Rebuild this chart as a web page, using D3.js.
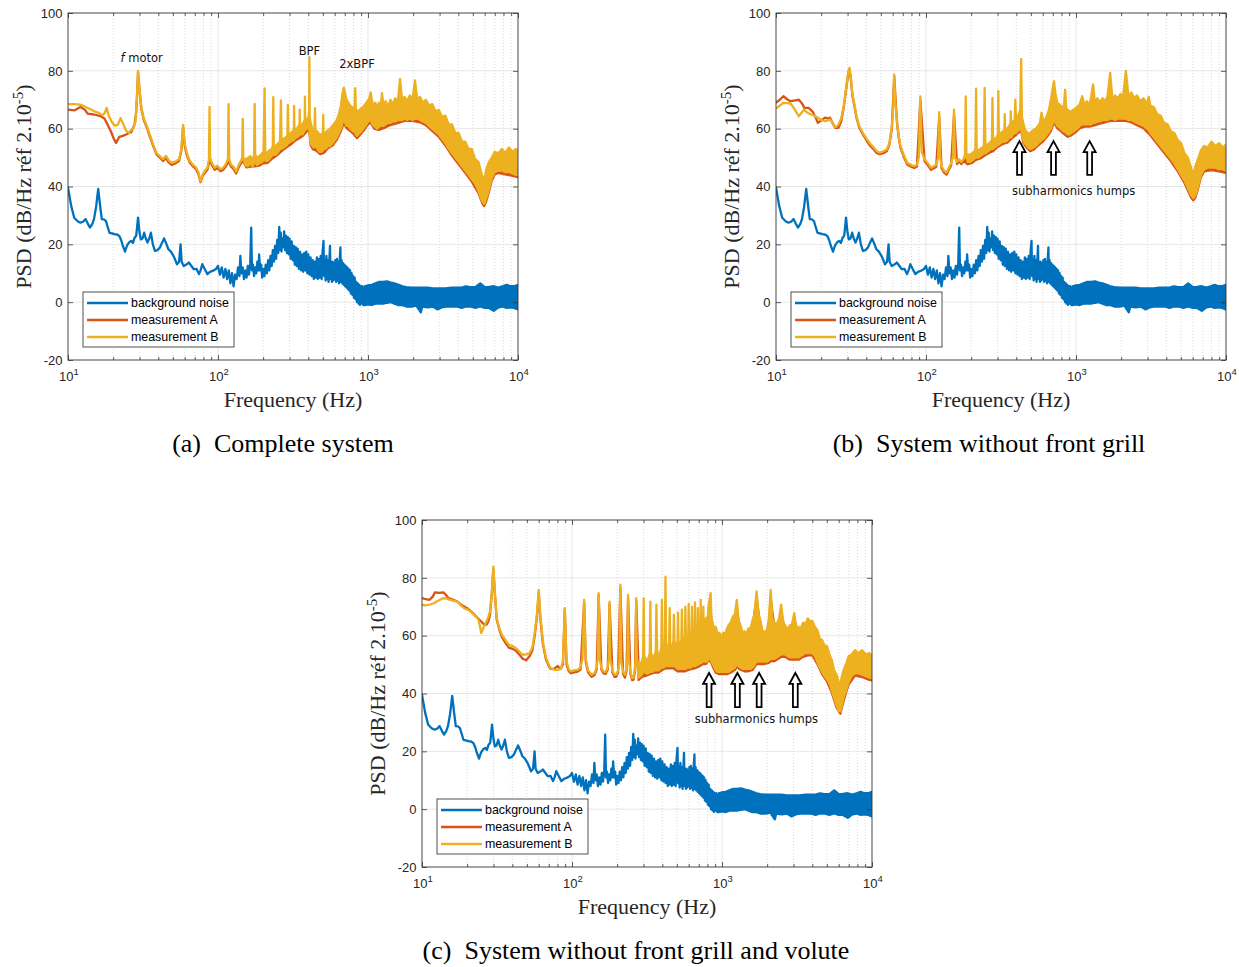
<!DOCTYPE html>
<html><head><meta charset="utf-8">
<script src="https://cdn.jsdelivr.net/npm/d3@7"></script>
<style>body{margin:0;background:#fff}svg{display:block}</style>
</head><body>
<svg id="chart" width="1239" height="967"></svg>
<script>
// ---------- DATA (frequency Hz, PSD dB; [f, v] or [f, low, high] for noisy bands) ----------
const yTicks = [-20, 0, 20, 40, 60, 80, 100];
const xDecades = [10, 100, 1000, 10000];
const xDecadeExp = ["1", "2", "3", "4"];
const seriesNames = ["background noise", "measurement A", "measurement B"];
const seriesColors = ["#0072BD", "#D95319", "#EDB120"];
const captions = ["(a)  Complete system", "(b)  System without front grill", "(c)  System without front grill and volute"];

// background noise (same recording in all three panels)
const backgroundNoise = [
[10,39.6],[10.5,33.3],[11,29.2],[11.6,28],[12.1,27.5],[12.6,27.8],[13.1,28.7],[13.6,27],[14,25.8],[14.5,27],[14.9,28.7],[15.4,33],[15.9,39.2],[16.4,33],[16.8,28.7],[17.4,28.6],[17.9,28],[18.4,26],[18.9,24],[19.6,23.8],[20.4,23.5],[21.2,23.4],[22,22.9],[22.6,21.5],[23.2,19.5],[24,17.5],[24.5,19],[25,20],[25.7,20.8],[26.4,21.2],[27.1,20.5],[27.8,22.3],[28.5,23],[29.3,29.2],[30,24],[30.6,21.7],[31.4,22],[32.2,24],[33,22],[33.9,20.6],[34.8,22],[35.7,24],[36.8,20],[38,17.7],[39.5,18],[41,18.9],[42.3,20.5],[43.7,22],[45,20.5],[46.7,18.3],[48.5,17.5],[50.5,16],[52,14.5],[53.3,13.1],[55,14],[56.3,20],[57.2,14],[59.1,12.5],[61.5,13],[63.9,13.7],[66.5,12.5],[69,11.4],[72,11.5],[74.7,9.7],[76.5,11],[78.6,13.1],[81.5,11.5],[85,9.7],[88.5,10.5],[92,10.8],[97,11.5],
[100,12.5],[103,9.5],[106,12],[109,8.5],[112,11.5],[115,8],[118,11],[121,6.5],[124,10],[127,5.5],[130,9.5],[133,8],[136,12],[139,9],[141,16],[143,10],[146,12],[149,8],[152,11],[155,8.5],[158,12.5],[161,9.5],[164,13.5],[166.5,25.8],[168.5,11],[171,13],[174,9],[177,12],[180,10],[183,14],[186,11],[188,16.5],[191,11],[194,13],[197,8.5],[200,11.5],[204,9],[208,13],[212,10],[216,14.5],[220,11],[224,16],[228,12.5],[232,18],[236,14],[240,19.5],[244,15],[248,21.5],[252,17],[256,26],[259,18],[262,24],[265,17.5],[268,22],[272,19],[276,24.5],[280,18],[284,23],[288,17],[292,22.5],[296,16.5],[300,22],[305,15],[310,21],[315,14.5],[320,19.5],[325,13],[330,19],[335,12.5],[340,18.5],[346,11.5],[352,17.5],[358,11],[364,16.5],[370,10.5],[376,17],[382,11],[388,17.5],[394,10],[400,16.5],[407,9.5],[414,15.5],[421,9],[428,14.5],[435,8],[442,14],[449,8.5],[456,15.5],[463,8],[470,15],[477,8.5],[484,16],[491,8],[498,17.5],[505,21.2],[510,9],[516,15],[522,7.5],[528,16],[534,8],[540,14.5],[546,7],[552,14],[558,19.5],[563,8],[569,14],[575,7],[581,14],[587,7.5],[593,13.5],[599,8],[606,14.5],[613,7],[620,15],[627,7.5],[634,14],[641,6.5],[648,15],[655,18.9],[660,7],[667,14.5],[674,6.5],[681,13.5],[688,6],[695,13],[703,5.5],[711,12.5],[719,5],[727,12],[735,4.5],[743,11.5],[751,4],[760,11],[769,3],[778,10],[787,2.5],[796,9],[805,1.5],[815,8.5],[825,1],[835,7],[845,0],[855,6.5],[865,-0.5],[875,6],[885,-1],[895,5.5],[905,-0.5],[915,5.5],[930,-1],
[950,-1,5.5],[1000,-0.8,5.8],[1060,-1,6],[1120,-0.5,6.5],[1190,-0.5,7],[1260,-0.5,7],[1340,-0.2,7.2],[1420,0,6.8],[1500,-0.5,6.5],[1600,-1,6],[1700,-1,5.5],[1800,-1.5,5.2],[1950,-1.5,5],[2100,-1.2,5],[2250,-3.5,5],[2300,-1.5,5],[2500,-1.8,5],[2700,-1.5,4.8],[2900,-2.5,4.8],[3100,-1.8,4.8],[3300,-1.5,4.8],[3600,-1.5,5],[3900,-1.5,5],[4200,-2,5],[4500,-1.5,5.5],[4800,-1.5,5.2],[5200,-2,5.2],[5600,-1.5,6.5],[6000,-2,5.2],[6400,-2,5.3],[6900,-3,5.5],[7400,-1.8,5],[7900,-1.5,5.5],[8400,-2,6],[8900,-1.8,5.5],[9400,-2,5.5],[10000,-2.5,6]
];

// panel (a) complete system
const measA_a = [
[10,66.6],[11,66.3],[12.1,67.5],[13,66.5],[13.5,65.2],[14.9,64.9],[16.5,64.3],[17.5,63.5],[18.2,61.8],[19.3,59.1],[20.2,56.5],[20.9,55.1],[22,57.2],[23.2,57.5],[24.4,58],[25.5,58.5],[26.4,58.8],[27.8,61.5],[28.5,66],[29,74],[29.3,79.5],[29.9,74],[30.8,67],[32,63],[33.5,60.5],[35,57.5],[37,54],[39,51],[41,50],[43,48.8],[45,49.8],[47,48.3],[49,47.5],[52,48],[55,48.8],[57,52.5],[58.5,60.5],[60,54],[62,50.8],[65,48.2],[68,47],[71,46.2],[74,44.3],[76.5,41.5],[79,43.7],[82,44.8],[85,45.8],[88,49],[91,47.5],[95,45.8],[99,46.4],[104,45.3],[109,45.9],[113,47],[118,48.7],[122,46.9],[127,46],[132,44.5],[137,46.5],[142,48],[147,48.7],
[155,46.6,49],[165,46.9,49.5],[175,47,50],[188,47.2,50],[200,48,51],[215,48.2,51],[230,49.7,52.5],[250,51,54],[270,52.6,55.5],[290,53.7,56.5],[310,54.8,57.5],[330,56,58.5],[350,56.8,60],[370,57.6,60.5],[390,59,62],[405,60,63],[415,54.2,60],[430,52.8,58],[450,52.5,57.5],[480,51.2,56.5],[510,51.7,57],[540,53.2,58],[580,54.2,59.5],[620,56.2,61.5],[660,59.2,66],[690,62,72],[720,60.2,68],[760,59.2,66.5],[800,58.2,65.5],[845,56.7,64.5],[880,57.7,65],[930,59.2,66],[990,61.2,68],[1040,62.2,70],[1100,60,67],[1180,59.6,66.5],[1270,60.2,67],[1400,61.2,68],[1550,61.8,69],[1750,62.7,69],[1980,62.7,69.5],[2220,62.2,69],[2430,61.2,68],[2680,59.2,66.5],[2970,57.2,64.5],[3280,54.2,62.5],[3630,50.7,59.5],[4020,47.7,56.5],[4450,44.7,53.5],[4920,41.7,51],[5450,37.7,46.5],[5800,34,43],[5950,33.2,40.5],[6150,35,44.5],[6400,38.2,46.5],[6700,42.2,49],[7000,44.2,50],[7400,44.7,51],[8200,44.2,51],[9200,43.7,51],[10000,43.2,51]
];
const measB_a = [
[10,68.5],[11,68.5],[12,68.3],[13,67.6],[14,66.8],[15,66],[16,65.5],[17,64.6],[17.6,65.5],[18.1,67.2],[18.7,64.5],[19.5,62.5],[20.5,61],[21.5,61.4],[22.4,63.6],[23.4,61.5],[24.4,59.3],[25.4,58.5],[26.4,59.6],[27.4,60.3],[28.2,62.5],[28.8,70],[29.3,80],[29.9,74],[30.8,67.5],[32,63.5],[33.5,61],[35,58.2],[37,54.5],[39,51.5],[41,50.5],[43,49.4],[45,50.6],[47,49],[49,48.2],[52,48.6],[55,49.4],[57,53],[58.5,61.3],[60,55],[62,51.5],[65,48.8],[68,47.5],[71,46.8],[74,45],[76.5,41.8],[79,44.2],[82,45.5],[85,46.5],[87,49.5],[87.8,67.5],[88.6,50],[91,48.2],[95,46.5],[99,47.2],[104,46],[109,46.6],[113,47.8],[116.5,49.5],[117.6,68.5],[118.8,49.5],[122,47.6],[127,46.8],[132,45.2],[137,47.3],[142,48.8],[145,50],[146.2,63.4],[147.5,49.5],
[152,47.5,49.5],[158,47,49.8],[164,48,50.5],[170,47,49],[174,48,51],[175.5,48.5,68.6],[177,48.5,51],[182,47.5,50],[188,48,50.5],[195,48.3,51.2],[201,49,52],[204.5,49.5,73.9],[206.5,49,52],[212,48.8,51.5],[220,49.5,52.5],[228,50.5,53],[232,51,54],[233.6,51,70.9],[235.5,51,54],[243,51,54],[252,52,55],[259,53,55.5],[262.8,53,69.8],[265,53,56],[273,53.5,56.5],[283,54,57],[290,54.5,57.5],[292.2,55,68.2],[294.5,55,58],[305,55.5,58.5],[315,56,59],[320.5,56,60],[321.5,56.5,67.9],[323,56.5,60],[335,57,60],[345,57.5,61],[349.5,58,61.5],[350.8,58,66.6],[352.2,58,61.5],[365,58,61.5],[375,59,62.5],[378.5,59.5,63],[379.8,59.5,71.1],[381.2,59.5,63],[392,60,63.5],[402,60.5,64],[405,61,66],[406.5,61,84.7],[408.5,58,64],
[415,55,62],[425,54,60],[435,53.5,59],[440,54,60],[443,54,67.1],[446,54,59.5],[460,53,59],[475,52,58],[490,52,58],[500,52.5,58.5],[503,53,64.8],[506,53,58],[520,53,58.5],[540,54,59.5],[560,54,60],[580,55,61],[600,56,62],[620,57,63],[640,58.5,65],[660,60,68],[675,62,72],[690,63,74.2],[705,62,72],[720,61,70],[740,61,69],[760,60,68],[780,59.5,67.5],[800,59,67],[815,59,68],[822,59,74],[830,58,67],[845,57.5,66],[860,58,66],[880,58.5,66.5],[900,59,67],[930,60,67.5],[960,61,68.5],[990,62,69.5],[1020,63,70.5],[1042,63,72.5],[1060,62,70],[1090,61,67.5],[1120,60.5,69],[1150,60,66.5],[1180,60.5,69],[1210,61,67],[1240,61,72.3],[1270,61,67.5],[1310,61.5,69.5],[1360,62,67.5],[1410,62,70],[1460,62.5,68.5],[1520,62.5,70.5],[1580,63,69],[1635,63,77.2],[1690,63,69.5],[1750,63.5,71],[1820,63,69.5],[1900,63.5,71.5],[1980,63,70],[2057,63.5,76.7],[2130,63.5,70],[2220,63,71],[2320,62.5,69],[2430,62,70],[2550,61,68],[2680,60,68.5],[2820,59,66],[2970,58,66.5],[3120,56.5,64],[3280,55,64.5],[3450,53,61.5],[3630,51.5,61.5],[3820,50,58.5],[4020,48.5,58.5],[4230,47,55.5],[4450,45.5,55.5],[4680,44,53],[4920,42.5,53],[5180,41,49.5],[5450,38.5,48.5],[5750,35,44],[5950,34,42],[6150,36,46],[6400,39,48.5],[6700,43,50],[7000,45,52],[7400,45.5,51.5],[7800,45.5,53],[8200,45,51.5],[8700,45,53.5],[9200,44.5,52],[9700,44,53],[10000,44,52]
];

// panel (b) without front grill
const measA_b = [
[10,69],[10.6,70],[11.2,71.2],[12,70],[12.5,69.5],[13.5,69.8],[14.2,70],[15,68.5],[15.4,67.2],[16.5,67.2],[17.5,66],[18.5,63.5],[19,62],[20,62.8],[21.2,63.8],[22.3,63.5],[22.9,63.8],[23.8,62],[24.8,60.3],[26.1,60.3],[27.2,62.5],[28.3,67.5],[29.5,74.5],[30.4,79.5],[30.9,80.5],[31.5,77.5],[32.3,71.5],[33.2,68.3],[34.5,63.5],[35.9,60.3],[38,58],[40.4,55.7],[42.5,54],[45,52.7],[47,51.5],[49.2,51.2],[52,51.5],[54.7,52.2],[57,54.5],[59.2,60.2],[61.4,78],[64.2,61.5],[66,56.5],[67.6,53.4],[71,50.4],[75,47.6],[79,46.9],[83.5,46.4],[87,46.9],[91.7,70],[97.9,48.7],[103,47.3],[108,45.8],[113,46.3],[117,46.8],[122.5,64],[127,46.3],[132,44.8],[137,44.1],[142,45.8],[147,47.3],[153.8,65],[161,47.8],[166,48.7],[172,47.8],[178,48.8],
[190,47.7,50],[203,48.2,50.5],[215,49.2,51.5],[230,49.7,52],[246,50.7,53],[264,51.7,54],[280,52.2,54.5],[300,53.7,56.5],[325,54.7,57.5],[348,55.2,58.5],[370,56.5,60.5],[395,57.7,62],[415,58.7,63.5],[431,59.2,64],[445,55.2,60.5],[465,53.7,57.5],[495,52.2,56.5],[520,52.7,57.5],[560,54.2,59.5],[605,55.7,61],[640,57.2,63],[680,59.2,68],[713,62.2,74],[750,60.2,67.5],[790,59.2,66.5],[830,58.2,66],[880,57.2,65],[930,57.7,64.5],[990,58.7,65.5],[1060,60.2,67],[1140,60.7,67.5],[1230,60.7,68],[1340,61.2,68],[1440,61.7,68.5],[1560,62.2,69],[1690,62.7,69.5],[1820,62.7,69.5],[1980,62.7,70.5],[2150,62.7,70.5],[2340,62.2,70.5],[2550,61.2,69.5],[2820,60.2,68.5],[3130,57.7,67],[3480,54.7,64],[3870,51.7,61],[4300,48.7,58],[4770,45.2,55],[5290,41.2,50.5],[5850,36.2,45],[6050,35.2,42.5],[6250,36.2,45.5],[6500,39.2,48],[6800,43.2,50.5],[7150,45.2,52.5],[8000,45.7,53.5],[9000,45.2,53],[10000,44.7,52.5]
];
const measB_b = [
[10,67],[10.5,67.8],[11.2,68.9],[12,68.8],[12.5,68.7],[13.2,67],[14.2,64.3],[14.8,65.5],[15.4,66.6],[16.2,65.5],[17.1,64.9],[18,64.5],[19,63.8],[20,63],[21.2,62.6],[22.1,62.8],[22.9,63.2],[23.8,62],[24.8,60.6],[25.5,60.8],[26.1,61.5],[27.2,63.5],[28.3,68],[29.5,75],[30.4,80],[30.9,81],[31.5,78],[32.3,72],[33.2,68.9],[34.5,64],[35.9,60.9],[38,58.5],[40.4,56.3],[42.5,54.8],[45,53.4],[47,52.2],[49.2,51.7],[52,52.2],[54.7,52.8],[57,55],[59.2,60.9],[60.5,68],[61.4,78.7],[62.3,70],[64.2,62],[66,57],[67.6,54],[71,51],[75,48.2],[79,47.5],[83.5,47],[87,47.5],[89.5,50],[91.7,71.2],[93.5,52],[97.9,49.4],[103,48],[108,46.5],[113,47],[117,47.5],[120.5,50],[122.5,65.7],[124.5,50],[127,47],[132,45.5],[137,44.8],[142,46.5],[147,48],[151,50],[153.8,66.6],[156,50],[161,48.5],[166,49.4],[172,48.5],[178,49.5],[182,51],[184,71.2],[186,51],
[190,48.5,51],[196,48.5,51],[203,49,51.5],[209,49.5,52],[213.5,50,53],[215.6,50,73.8],[217.7,50,53],[223,50,52.5],[230,50.5,53],[237,51,53.5],[243,51.5,54],[246,51.5,74.1],[249,51.5,54],[256,52,54.5],[264,52.5,55],[271,53,55.5],[275,53,56],[277.5,53,70.6],[280,53,56],[287,53.5,56.5],[295,54,57],[301,54.5,58],[303.5,54.5,73],[306,54.5,58],[315,55,58.5],[325,55.5,59],[333,55.5,59.5],[335,55.5,65],[337,55.5,59.5],[348,56,60],[360,57,61],[366,57,62],[367.5,57,66],[369,57,62],[380,58,62.5],[390,58.5,63],[394,58.5,70],[398,58.5,63.5],[405,59,64],[415,59.5,65],[425,60,66.5],[431,60,84],[436,58,64],[445,56,62],[455,55,60],[465,54.5,59],[480,53.5,58.5],[495,53,58],[505,53,59],[520,53.5,59.5],[540,54,60],[560,55,61],[575,55.5,62],[589,56,65.5],[605,56.5,62.5],[620,57,63],[640,58,64.5],[660,59,66.5],[680,60,70],[700,62,74],[713,63,76.4],[730,62,72],[750,61,69],[770,60.5,68.5],[790,60,68],[810,59.5,67.5],[830,59,67.5],[846,59,73.5],[860,58.5,67],[880,58,66.5],[900,58,66],[930,58.5,66],[960,59,66.5],[990,59.5,67],[1020,60,67.5],[1060,61,68.5],[1100,61.5,71.2],[1140,61.5,68],[1180,61.5,69.5],[1230,61.5,68],[1260,61.5,71],[1300,62,75.3],[1340,62,68.5],[1390,62.5,70.5],[1440,62.5,69],[1500,63,70.5],[1560,63,69.5],[1620,63,71],[1690,63.5,79.3],[1750,63.5,70],[1820,63,71.5],[1900,63.5,70.5],[1980,63.5,72],[2060,63.5,71],[2150,63.5,80],[2240,63,71],[2340,63,72.5],[2440,62.5,70.5],[2550,62,71.5],[2680,61.5,69.5],[2820,61,70.5],[2970,60,68.5],[3050,59.5,71],[3130,58.5,68],[3300,57,67.5],[3480,55.5,65],[3670,54,64.5],[3870,52.5,62],[4080,51,61.5],[4300,49.5,59],[4530,48,58.5],[4770,46,56],[5020,44,55],[5290,42,51.5],[5570,39.5,50],[5850,37,46.5],[6050,36,44],[6250,37,47],[6500,40,49.5],[6800,44,52.5],[7150,46,54],[7550,46.5,53.5],[8000,46.5,55.5],[8500,46.5,54],[9000,46,55],[9500,46,53.5],[10000,45.5,54.5]
];

// panel (c) without front grill and volute
const measA_c = [
[10,73],[10.6,72.6],[11.2,72.4],[11.8,73.5],[12.2,75],[13,74.8],[13.9,75],[14.5,74],[15,73],[16,72.5],[17.2,71.8],[18.5,70.5],[20,69.5],[21.2,68.5],[22.4,67.2],[23.6,66],[24.8,64.9],[25.8,64],[26.9,63.8],[27.7,65],[28.4,67.2],[29.2,74.5],[29.9,83],[30.6,74.5],[31.5,65.5],[32.8,62],[34.1,59.5],[36,57.5],[38,55.8],[40,55.5],[42.3,54.8],[44.5,53.5],[46.9,52],[49.5,51.5],[52.2,53],[54.5,55],[56.6,60.5],[58.5,67],[60,75],[61.5,66],[64,57],[67,51.8],[70,49.5],[72,48.5],[76,48.5],[80,49.5],[84,48.5],[87,50],[89.5,69],[92,50],[95,47.8],[98,47],[103,47.3],[109,47.6],[114,48.3],[120.5,71.5],[123.5,51],[128,47.3],[135,45.8],[141,46.3],[146,48.2],[150.6,74],[157,48.3],[162,47],[168,46.8],[173,48.3],[178,71],[186,47.3],[192,45.8],[197,45.8],[203,47.3],[210,76.5],[219,46.8],[225,45.5],[231,47.8],[236.5,73],[245,46.8],[252,44.6],[257,44.8],[263,47.8],[268,72],
[278,44.7,48.5],[292,45.7,49.5],[312,46.2,50],[330,46.7,51],[355,47.2,51.5],[378,47.2,51.5],[400,48.2,53],[420,48.7,55],[445,48.7,55],[475,48.7,55.5],[505,47.7,55],[540,47.7,56.5],[570,47.7,57.5],[600,48.2,58.5],[630,48.5,59.5],[660,48.7,60],[690,49.2,60.5],[720,49.7,61.5],[750,50.2,62.5],[780,50.2,63],[810,51.2,65],[840,51.2,68],[870,49.2,62],[910,47.2,60],[960,46.7,58.5],[1020,46.7,58.5],[1080,46.7,60],[1140,47.2,62.5],[1220,48.2,65],[1255,49.2,69],[1330,48.2,61],[1410,47.7,59.5],[1500,47.7,60],[1600,48.2,63],[1700,50.2,73.5],[1800,50.2,63],[1920,50.2,59.5],[2060,50.7,64],[2110,51.2,73],[2240,51.2,62.5],[2400,52.2,63.5],[2480,52.7,68],[2640,52.7,61.5],[2830,51.7,61.5],[3030,51.7,65.5],[3240,51.7,61],[3470,52.7,62.5],[3730,53.2,64],[4010,53.2,63],[4320,50.2,60],[4650,46.7,56.5],[5010,44.2,54.5],[5400,40.2,49.5],[5800,35.2,44.5],[6150,33,41.5],[6300,35.2,44.5],[6700,40.2,48.5],[7000,43.2,51],[7700,46.2,53],[8600,45.7,53],[9600,44.7,52],[10000,44.5,52]
];
const measB_c = [
[10,70.7],[10.5,70.5],[11.2,70.7],[12,71.2],[12.5,71.8],[13.2,72.4],[13.9,73],[14.6,72.8],[15.4,72.4],[16.3,72],[17.2,71.8],[18.1,70.5],[19.1,69.5],[20.1,69],[21.2,68.4],[22.4,67],[23.6,66],[24.3,63.5],[24.8,60.9],[25.8,63],[26.9,64.9],[27.7,66.5],[28.4,68.4],[29.2,75],[29.9,83.9],[30.6,75],[31.5,66],[32.8,62.5],[34.1,60.3],[36,58.5],[38,56.8],[40,56.5],[42.3,55.7],[44.5,54.5],[46.9,53.4],[49.5,53.5],[52.2,54],[54.5,56],[56.6,61.5],[58.5,68],[60,75.8],[61.5,67],[64,58],[67,52.5],[70,50],[72,48.8],[76,48.2],[80,48.2],[84,48.5],[87,51],[89.5,69.5],[92,51],[95,48.5],[98,47.6],[103,48],[109,48.2],[114,49],[117.5,52],[120.5,72.4],[123.5,52],[128,48],[135,46.5],[141,47],[146,49],[148.5,52],[150.6,74.7],[153,52],[157,49],[162,47.6],[168,47.5],[173,49],[176,52],[178,71.8],[180,52],[186,48],[192,46.5],[197,46.5],[203,48],[207,51],[210,77.6],[213,51],[219,47.5],[225,46.5],[231,48.5],[234,52],[236.5,74.1],[239,52],[245,47.5],[252,45.3],[257,45.5],[263,48.5],[265.5,52],[268,73],[270.5,52],
[278,45.5,50],[285,46,50.5],[292,46.5,51],[298,47.5,53],[300.5,47.5,73],[303,47.5,53],[312,47,51.5],[322,47,52],[330,47.5,54],[333,47.5,71.8],[336,47.5,54],[345,47.5,52.5],[355,48,53],[362,48,55],[365.5,48,70.7],[369,48,55],[378,48,53],[388,48.5,54],[394,49,56],[397.5,49,72.4],[401,49,56],[410,49,55],[416,49.5,58],[420,49.5,80.4],[424,49.5,57],[435,49.5,55],[444,49.5,58],[448,49.5,69.5],[452,49.5,57],[465,49.5,56],[474,49.5,58],[478,49.5,67.2],[482,49.5,58],[495,49,56],[505,48.5,58],[509,48.5,68],[513,48.5,58],[530,48.5,57],[536,48.5,59],[540,48.5,69],[544,48.5,59],[560,48.5,58],[566,48.5,60],[570,48.5,70],[574,48.5,60],[590,49,59],[596,49,61],[600,49,71],[604,49,61],[622,49,60],[627,49.5,62],[631,49.5,70],[635,49.5,62],[655,49.5,61],[658,49.5,63],[661,49.5,71.5],[664,49.5,63],[685,50,62],[688,50,63],[691,50,69.5],[694,50,63],[715,50.5,63],[718,50.5,64],[721,50.5,72.4],[724,50.5,64],[745,51,64],[748,51,65],[751,51,70],[754,51,65],[775,51,65],[781,51,66],[790,51,66],[807,51.5,67],[812,52,70],[840,52,74.7],[850,51,66],[870,50,64],[890,49,62],[910,48,63],[935,47.5,60.5],[960,47.5,61],[990,47.5,59.5],[1020,47.5,61],[1050,47.5,60.5],[1080,47.5,62.5],[1110,47.5,63.8],[1140,48,64.5],[1180,48.5,66.5],[1220,49,67.5],[1255,50,72.4],[1290,49.5,65.5],[1330,49,63.5],[1370,48.5,61],[1410,48.5,61.5],[1450,48.5,60.5],[1500,48.5,62.5],[1550,48.5,62.5],[1600,49,65.5],[1650,50,67.5],[1700,51,75.3],[1750,51,67.5],[1800,51,65.5],[1860,51,61.5],[1920,51,61.5],[1990,51,61.5],[2060,51.5,66.5],[2110,52,75.8],[2170,52,65.5],[2240,52,64.5],[2320,52.5,64],[2400,53,66],[2480,53.5,70.7],[2560,53.5,64.5],[2640,53.5,63.5],[2730,53,62],[2830,52.5,63.5],[2930,52.5,64],[3030,52.5,67.8],[3130,52.5,62.5],[3240,52.5,63],[3350,53,62.5],[3470,53.5,64.5],[3600,54,64],[3730,54,66],[3870,54,65],[4010,54,65],[4160,53,63],[4320,51,62],[4480,49,59],[4650,47.5,58.5],[4830,46,56.5],[5010,45,56.5],[5200,43.5,53.5],[5400,41,51.5],[5600,38.5,48],[5800,36,46.5],[6000,34,44],[6150,33.8,43],[6300,36,46],[6500,39,48.5],[6700,41,50],[7000,44,53],[7300,46,53.5],[7700,47,55],[8100,47,54],[8600,46.5,55],[9100,46,53.5],[9600,45.5,54],[10000,45.3,53]
];

// annotations: [frequency Hz, dB]
const annotA = [{html:"motor", italic:"f", f:31, v:84.4}, {text:"BPF", f:407, v:86.9}, {text:"2xBPF", f:845, v:82.4}];
const arrowsB = [420, 708, 1233];       // arrow frequencies, panel b
const arrowsBRange = [44, 55.7];        // arrow bottom / tip (dB)
const labelB = {text:"subharmonics humps", f:964, v:38.5};
const arrowsC = [820, 1267, 1768, 3083];
const arrowsCRange = [35.3, 47.1];
const labelC = {text:"subharmonics humps", f:1694, v:31.2};

// ---------- DRAW ----------
const svg = d3.select("#chart");
const W = 450, H = 347;
const panels = [
  {left:68, top:13, caption:captions[0], capX:283, capY:452, A:measA_a, B:measB_a, key:"a"},
  {left:776, top:13, caption:captions[1], capX:989, capY:452, A:measA_b, B:measB_b, key:"b"},
  {left:422, top:520, caption:captions[2], capX:636, capY:959, A:measA_c, B:measB_c, key:"c"}
];
const tickFont = "'Liberation Sans', Arial, Helvetica, sans-serif";
const serif = "'Liberation Serif', 'Times New Roman', serif";
const annFont = "'DejaVu Sans', Verdana, sans-serif";

panels.forEach((p) => {
  const g = svg.append("g");
  const x = d3.scaleLog().domain([10, 10000]).range([p.left, p.left + W]);
  const y = d3.scaleLinear().domain([-20, 100]).range([p.top + H, p.top]);
  const minorTicks = [];
  [10, 100, 1000].forEach(d => { for (let k = 2; k <= 9; k++) minorTicks.push(d * k); });

  // grid
  g.append("g").selectAll("line").data(minorTicks).join("line")
    .attr("x1", d => x(d)).attr("x2", d => x(d)).attr("y1", p.top).attr("y2", p.top + H)
    .attr("stroke", "#c8c8c8").attr("stroke-width", 0.7).attr("stroke-dasharray", "1,2");
  g.append("g").selectAll("line").data([100, 1000]).join("line")
    .attr("x1", d => x(d)).attr("x2", d => x(d)).attr("y1", p.top).attr("y2", p.top + H)
    .attr("stroke", "#e0e0e0").attr("stroke-width", 0.8);
  g.append("g").selectAll("line").data(yTicks.slice(1, -1)).join("line")
    .attr("x1", p.left).attr("x2", p.left + W).attr("y1", d => y(d)).attr("y2", d => y(d))
    .attr("stroke", "#e0e0e0").attr("stroke-width", 0.8);

  // clip
  const cid = "clip" + p.key;
  svg.append("clipPath").attr("id", cid).append("rect")
    .attr("x", p.left).attr("y", p.top).attr("width", W).attr("height", H);

  const area = d3.area()
    .x(d => x(d[0]))
    .y0(d => y(d[1]))
    .y1(d => y(d.length > 2 ? d[2] : d[1]));
  const data = [backgroundNoise, p.A, p.B];
  const sg = g.append("g").attr("clip-path", `url(#${cid})`);
  data.forEach((ds, i) => {
    sg.append("path").attr("d", area(ds))
      .attr("fill", seriesColors[i]).attr("stroke", seriesColors[i])
      .attr("stroke-width", 2.3).attr("stroke-linejoin", "round");
  });

  // axes (ticks inward)
  const axCol = "#333";
  const styleAxis = sel => { sel.select(".domain").remove(); sel.selectAll("line").attr("stroke", axCol).attr("stroke-width", 0.8); };
  g.append("g").attr("transform", `translate(0,${p.top + H})`)
    .call(d3.axisBottom(x).tickValues(xDecades).tickSize(-5).tickFormat(""))
    .call(styleAxis);
  g.append("g").attr("transform", `translate(0,${p.top + H})`)
    .call(d3.axisBottom(x).tickValues(minorTicks).tickSize(-3).tickFormat(""))
    .call(styleAxis);
  g.append("g").attr("transform", `translate(0,${p.top})`)
    .call(d3.axisTop(x).tickValues(xDecades).tickSize(-5).tickFormat(""))
    .call(styleAxis);
  g.append("g").attr("transform", `translate(0,${p.top})`)
    .call(d3.axisTop(x).tickValues(minorTicks).tickSize(-3).tickFormat(""))
    .call(styleAxis);
  const yl = g.append("g").attr("transform", `translate(${p.left},0)`)
    .call(d3.axisLeft(y).tickValues(yTicks).tickSize(-5).tickPadding(5.5).tickFormat(d => String(d)))
    .call(styleAxis);
  yl.selectAll("text").attr("font-family", tickFont).attr("font-size", 13).attr("fill", "#262626");
  g.append("g").attr("transform", `translate(${p.left + W},0)`)
    .call(d3.axisRight(y).tickValues(yTicks).tickSize(-5).tickFormat(""))
    .call(styleAxis);
  g.append("rect").attr("x", p.left).attr("y", p.top).attr("width", W).attr("height", H)
    .attr("fill", "none").attr("stroke", axCol).attr("stroke-width", 0.9);

  // x tick labels 10^n
  xDecades.forEach((d, i) => {
    const t = g.append("text").attr("x", x(d) + 1).attr("y", p.top + H + 21)
      .attr("text-anchor", "middle").attr("font-family", tickFont).attr("font-size", 13).attr("fill", "#262626");
    t.append("tspan").text("10");
    t.append("tspan").attr("dy", -6).attr("font-size", 9.5).text(xDecadeExp[i]);
  });

  // axis titles
  g.append("text").attr("x", p.left + W / 2).attr("y", p.top + H + 47)
    .attr("text-anchor", "middle").attr("font-family", serif).attr("font-size", 22).attr("fill", "#262626")
    .text("Frequency (Hz)");
  const yt = g.append("text").attr("transform", `translate(${p.left - 37},${p.top + H / 2}) rotate(-90)`)
    .attr("text-anchor", "middle").attr("font-family", serif).attr("font-size", 22).attr("fill", "#262626");
  yt.append("tspan").text("PSD (dB/Hz réf 2.10");
  yt.append("tspan").attr("dy", -8).attr("font-size", 15).text("-5");
  yt.append("tspan").attr("dy", 8).text(")");

  // caption
  g.append("text").attr("x", p.capX).attr("y", p.capY).attr("text-anchor", "middle")
    .attr("font-family", serif).attr("font-size", 26).attr("fill", "#000").attr("xml:space", "preserve")
    .text(p.caption);

  // annotations
  const annText = (o) => g.append("text").attr("x", x(o.f)).attr("y", y(o.v))
    .attr("text-anchor", "middle").attr("dominant-baseline", "central")
    .attr("font-family", annFont).attr("font-size", 11.5).attr("fill", "#111");
  const drawArrow = (f, r) => {
    const cx = x(f), ty = y(r[1]), by = y(r[0]);
    const hw = 6, hh = 11, sw = 2.4;
    const path = `M${cx},${ty} L${cx + hw},${ty + hh} L${cx + sw},${ty + hh} L${cx + sw},${by} L${cx - sw},${by} L${cx - sw},${ty + hh} L${cx - hw},${ty + hh} Z`;
    g.append("path").attr("d", path).attr("fill", "#fff").attr("stroke", "#000").attr("stroke-width", 1.8).attr("stroke-linejoin", "miter");
  };
  if (p.key === "a") {
    annotA.forEach(o => {
      const t = annText(o);
      if (o.italic) {
        t.append("tspan").attr("font-style", "italic").text(o.italic);
        t.append("tspan").text(" " + o.html);
      } else t.text(o.text);
    });
  } else if (p.key === "b") {
    arrowsB.forEach(f => drawArrow(f, arrowsBRange));
    annText(labelB).text(labelB.text);
  } else {
    arrowsC.forEach(f => drawArrow(f, arrowsCRange));
    annText(labelC).text(labelC.text);
  }

  // legend
  const lx = p.left + 15, ly = p.top + 279;
  const lg = g.append("g");
  lg.append("rect").attr("x", lx).attr("y", ly).attr("width", 151).attr("height", 55)
    .attr("fill", "#fff").attr("stroke", "#262626").attr("stroke-width", 0.8);
  seriesNames.forEach((n, i) => {
    const yy = ly + 11 + i * 17;
    lg.append("line").attr("x1", lx + 4).attr("x2", lx + 45).attr("y1", yy).attr("y2", yy)
      .attr("stroke", seriesColors[i]).attr("stroke-width", 2.6);
    lg.append("text").attr("x", lx + 48).attr("y", yy).attr("dominant-baseline", "central")
      .attr("font-family", tickFont).attr("font-size", 12.4).attr("fill", "#000").text(n);
  });
});
</script>
</body></html>
